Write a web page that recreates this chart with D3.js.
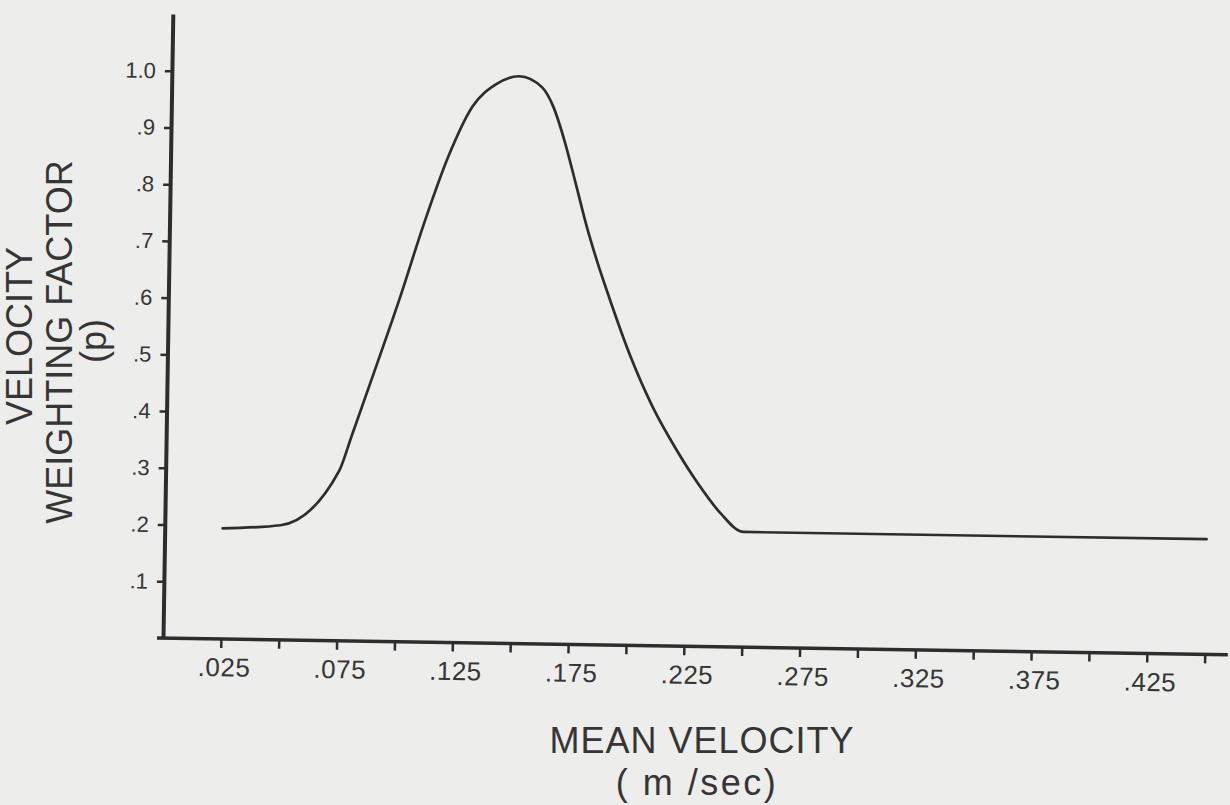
<!DOCTYPE html>
<html>
<head>
<meta charset="utf-8">
<title>Velocity weighting factor</title>
<script src="https://cdn.jsdelivr.net/npm/d3@7/dist/d3.min.js"></script>
<style>
    html, body { margin: 0; padding: 0; background: #ededec; }
    svg { display: block; }
    .axis text { font-family: "Liberation Sans", Arial, sans-serif; fill: #353535; }
    .title { font-family: "Liberation Sans", Arial, sans-serif; fill: #353535; }
</style>
</head>
<body>
<div id="chart"></div>
<script>
// values
const velocity = [0.025, 0.05, 0.075, 0.08, 0.09, 0.10, 0.11, 0.12, 0.13, 0.14, 0.15,
                  0.16, 0.165, 0.17, 0.175, 0.18, 0.185, 0.19, 0.20, 0.21, 0.22, 0.23, 0.24, 0.25, 0.45];
const weighting = [0.195, 0.202, 0.30, 0.36, 0.482, 0.606, 0.739, 0.857, 0.945, 0.985, 1.0,
                   0.981, 0.947, 0.888, 0.815, 0.74, 0.675, 0.617, 0.509, 0.42, 0.349, 0.287, 0.235, 0.203, 0.203];

const xTickValues = [0.025, 0.05, 0.075, 0.10, 0.125, 0.15, 0.175, 0.20, 0.225, 0.25,
                     0.275, 0.30, 0.325, 0.35, 0.375, 0.40, 0.425, 0.45];
const xTickLabels = [".025", "", ".075", "", ".125", "", ".175", "", ".225", "",
                     ".275", "", ".325", "", ".375", "", ".425", ""];
const yTickValues = [0.1, 0.2, 0.3, 0.4, 0.5, 0.6, 0.7, 0.8, 0.9, 1.0];
const yTickLabels = [".1", ".2", ".3", ".4", ".5", ".6", ".7", ".8", ".9", "1.0"];

const xTitle = ["MEAN VELOCITY", "( m /sec)"];
const yTitle = ["VELOCITY", "WEIGHTING FACTOR", "(p)"];

document.addEventListener('DOMContentLoaded', () => {

    const W = 1230, H = 805;
    const origin = { x: 163, y: 638 };
    const tilt = 0.9; // the scan is slightly rotated
    const ink = "#2d2d2d";

    const svg = d3.select("#chart").append("svg")
        .attr("width", W)
        .attr("height", H);

    svg.append("rect").attr("width", W).attr("height", H).attr("fill", "#ededec");

    const g = svg.append("g")
        .attr("transform", `translate(${origin.x},${origin.y}) rotate(${tilt})`);

    const x = d3.scaleLinear().domain([0, 0.46]).range([0, 1065]);
    const y = d3.scaleLinear().domain([0, 1.1]).range([0, -624]);

    // x axis
    const xAxis = g.append("g").attr("class", "axis x")
        .call(d3.axisBottom(x)
            .tickValues(xTickValues)
            .tickFormat((d, i) => xTickLabels[i])
            .tickSize(9)
            .tickSizeOuter(0)
            .tickPadding(10));
    xAxis.select(".domain").attr("stroke", ink).attr("stroke-width", 3.5).attr("d", `M-6,0H${x(0.46)}`);
    xAxis.selectAll(".tick line").attr("stroke", ink).attr("stroke-width", 2.5);
    xAxis.selectAll(".tick text").attr("font-size", 26).attr("dx", 3).attr("letter-spacing", 0.5);

    // y axis
    const yAxis = g.append("g").attr("class", "axis y")
        .call(d3.axisLeft(y)
            .tickValues(yTickValues)
            .tickFormat((d, i) => yTickLabels[i])
            .tickSize(7)
            .tickSizeOuter(0)
            .tickPadding(9));
    yAxis.select(".domain").attr("stroke", ink).attr("stroke-width", 4);
    yAxis.selectAll(".tick line").attr("stroke", ink).attr("stroke-width", 2.5);
    yAxis.selectAll(".tick text").attr("font-size", 22);

    // curve
    const line = d3.line()
        .x((d, i) => x(velocity[i]))
        .y(d => y(d))
        .curve(d3.curveMonotoneX);

    g.append("path")
        .datum(weighting)
        .attr("fill", "none")
        .attr("stroke", ink)
        .attr("stroke-width", 2.7)
        .attr("stroke-linejoin", "round")
        .attr("stroke-linecap", "round")
        .attr("d", line);

    // axis titles
    svg.append("text").attr("class", "title")
        .attr("x", 702).attr("y", 753)
        .attr("text-anchor", "middle").attr("font-size", 36)
        .attr("letter-spacing", 1)
        .text(xTitle[0]);
    svg.append("text").attr("class", "title")
        .attr("x", 697).attr("y", 795)
        .attr("text-anchor", "middle").attr("font-size", 36)
        .attr("letter-spacing", 2.5)
        .text(xTitle[1]);

    const yTitlePos = [[32, 336], [72, 342], [106, 341]];
    yTitle.forEach((t, i) => {
        svg.append("text").attr("class", "title")
            .attr("transform", `translate(${yTitlePos[i][0]},${yTitlePos[i][1]}) rotate(-90)`)
            .attr("text-anchor", "middle").attr("font-size", 36)
            .text(t);
    });
});
</script>
</body>
</html>
